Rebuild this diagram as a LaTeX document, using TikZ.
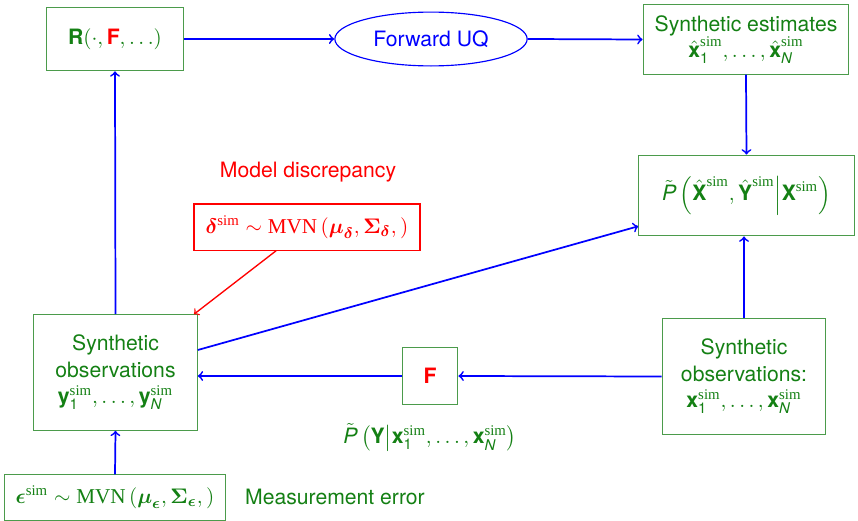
\documentclass[tikz,11pt,border=0pt]{standalone}
\usepackage{amsmath,amssymb}
\usepackage[no-math]{fontspec}
\setmainfont{TeX Gyre Heros}
\newfontfamily\serif{Liberation Serif}
\usetikzlibrary{shapes.geometric}

\definecolor{txtgreen}{RGB}{20,128,20}
\definecolor{boxgreen}{RGB}{75,155,75}

% sans letters inside formulas
\newcommand\bsf[1]{\text{\bfseries #1}}
\newcommand\isf[1]{\text{\itshape #1}}
\newcommand\simsup{\text{\serif sim}}
\newcommand\mvn{\text{\serif MVN}}

\begin{document}
\begin{tikzpicture}[x=0.52pt,y=-0.52pt,
  every node/.style={font=\fontsize{11}{13.6}\selectfont},
  gbox/.style={draw=boxgreen, line width=0.6pt, text=txtgreen, align=center, inner sep=0pt},
  rbox/.style={draw=red, line width=0.6pt, text=red, align=center, inner sep=0pt},
  flow/.style={->, blue, line width=0.9pt},
  dflow/.style={->, red, line width=0.7pt}]
\useasboundingbox (0,0) rectangle (858,521);

\node[gbox, minimum width=71pt, minimum height=33pt] (R) at (115,39)
  {$\bsf{R}(\cdot,\textcolor{red}{\bsf{F}},\ldots)$};
\node[ellipse, draw=blue, line width=0.6pt, text=blue, inner sep=0pt,
      minimum width=100pt, minimum height=28pt] (uq) at (431,39) {Forward UQ};
\node[gbox, minimum width=107pt, minimum height=36pt] (se) at (746,39.5)
  {Synthetic estimates\\
   $\hat{\bsf{x}}^{\simsup}_{\text{1}},\ldots,\hat{\bsf{x}}^{\simsup}_{\isf{N}}$};
\node[gbox, minimum width=112pt, minimum height=42pt] (pp) at (746.5,195.5)
  {$\tilde{\isf{P}}\left(\hat{\bsf{X}}^{\simsup},\hat{\bsf{Y}}^{\simsup}\middle|\bsf{X}^{\simsup}\right)$};

\node[text=red] (md) at (308,172) {Model discrepancy};
\node[rbox, minimum width=117.5pt, minimum height=24pt] (dl) at (307,227)
  {$\boldsymbol{\delta}^{\simsup}\sim\mvn\left(\boldsymbol{\mu}_{\boldsymbol{\delta}},\boldsymbol{\Sigma}_{\boldsymbol{\delta}},\right)$};

\node[gbox, minimum width=85pt, minimum height=60pt] (lo) at (115.5,372.5)
  {Synthetic\\observations\\
   $\bsf{y}^{\simsup}_{\text{1}},\ldots,\bsf{y}^{\simsup}_{\isf{N}}$};
\node[gbox, minimum width=29pt, minimum height=30pt, text=red] (F) at (430,376)
  {\bfseries F};
\node[gbox, minimum width=85pt, minimum height=60pt] (ro) at (744,376.5)
  {Synthetic\\observations:\\
   $\bsf{x}^{\simsup}_{\text{1}},\ldots,\bsf{x}^{\simsup}_{\isf{N}}$};
\node[text=txtgreen] (py) at (430,437)
  {$\tilde{\isf{P}}\left(\bsf{Y}\middle|\bsf{x}^{\simsup}_{\text{1}},\ldots,\bsf{x}^{\simsup}_{\isf{N}}\right)$};

\node[gbox, minimum width=115pt, minimum height=23.5pt] (ep) at (115,497.5)
  {$\boldsymbol{\epsilon}^{\simsup}\sim\mvn\left(\boldsymbol{\mu}_{\boldsymbol{\epsilon}},\boldsymbol{\Sigma}_{\boldsymbol{\epsilon}},\right)$};
\node[text=txtgreen] (me) at (335,497) {Measurement error};

% connectors
\draw[flow] (R.east) -- (uq.west);
\draw[flow] (uq.east) -- (se.west);
\draw[flow] (se.south) -- (pp.north);
\draw[flow] (ro.north) -- (ro.north |- pp.south);
\draw[flow] (ro.west) -- (F.east);
\draw[flow] (F.west) -- (F.west -| lo.east);
\draw[flow] ([yshift=11.7pt]lo.east) -- ([yshift=-16pt]pp.west);
\draw[flow] (lo.north) -- (R.south);
\draw[flow] (ep.north) -- (lo.south);
\draw[dflow] ([xshift=-16pt]dl.south) -- ([xshift=-2pt]lo.north east);
\end{tikzpicture}
\end{document}
